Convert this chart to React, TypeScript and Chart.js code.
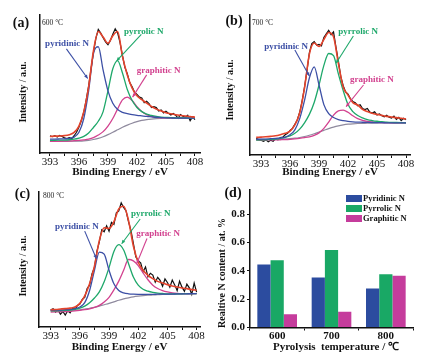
import React, { useEffect, useRef } from 'react';
import { Chart, registerables } from 'chart.js';

Chart.register(...registerables);

const SERIF = '"Liberation Serif", "Times New Roman", Times, serif';
const INK = '#111111';
const RED = '#e4432c';
const BLUE = '#3c4fa5';
const GREEN = '#1ea86a';
const PINK = '#d2428f';
const GRAY = '#8f8a9e';
const BAR_BLUE = '#2c4c9f';
const BAR_GREEN = '#19a865';
const BAR_PINK = '#c53c9c';

// ---------- shared energy grids (eV) ----------
const energyGrid = [393, 393.5, 394, 394.5, 395, 395.5, 396, 396.5, 397, 397.5, 398, 398.5, 399, 399.5, 400, 400.5, 401, 401.5, 402, 402.5, 403, 403.5, 404, 404.5, 405, 405.5, 406, 406.5, 407, 407.5, 408];
const energyGridB = [392.5, 393, 393.5, 394, 394.5, 395, 395.5, 396, 396.5, 397, 397.5, 398, 398.5, 399, 399.5, 400, 400.5, 401, 401.5, 402, 402.5, 403, 403.5, 404, 404.5, 405, 405.5, 406, 406.5, 407, 407.5, 408];
const fineGrid = [393, 393.25, 393.5, 393.75, 394, 394.25, 394.5, 394.75, 395, 395.25, 395.5, 395.75, 396, 396.25, 396.5, 396.75, 397, 397.25, 397.5, 397.75, 398, 398.25, 398.5, 398.75, 399, 399.25, 399.5, 399.75, 400, 400.25, 400.5, 400.75, 401, 401.25, 401.5, 401.75, 402, 402.25, 402.5, 402.75, 403, 403.25, 403.5, 403.75, 404, 404.25, 404.5, 404.75, 405, 405.25, 405.5, 405.75, 406, 406.25, 406.5, 406.75, 407, 407.25, 407.5, 407.75, 408];
const fineGridB = [392.5, 392.75, 393, 393.25, 393.5, 393.75, 394, 394.25, 394.5, 394.75, 395, 395.25, 395.5, 395.75, 396, 396.25, 396.5, 396.75, 397, 397.25, 397.5, 397.75, 398, 398.25, 398.5, 398.75, 399, 399.25, 399.5, 399.75, 400, 400.25, 400.5, 400.75, 401, 401.25, 401.5, 401.75, 402, 402.25, 402.5, 402.75, 403, 403.25, 403.5, 403.75, 404, 404.25, 404.5, 404.75, 405, 405.25, 405.5, 405.75, 406, 406.25, 406.5, 406.75, 407, 407.25, 407.5, 407.75, 408];

const energyMajorTicks = [393, 396, 399, 402, 405, 408];
const energyAllTicks = [393, 394.5, 396, 397.5, 399, 400.5, 402, 403.5, 405, 406.5, 408];

// ---------- (a) 600 °C ----------
const backgroundA = [8.4, 8.4, 8.4, 8.4, 8.5, 8.5, 8.6, 8.8, 9.2, 9.8, 10.6, 11.8, 13.3, 15.0, 16.8, 18.6, 20.2, 21.6, 22.7, 23.6, 24.2, 24.6, 24.9, 25.1, 25.2, 25.3, 25.3, 25.3, 25.3, 25.3, 25.3];
const pyridinicA = [10.1, 10.1, 10.2, 10.3, 10.6, 11.5, 15, 25, 45, 72, 77, 60, 45, 36, 31.5, 29.5, 28.5, 27.8, 27.3, 26.9, 26.5, 26.2, 25.9, 25.7, 25.5, 25.4, 25.3, 25.3, 25.3, 25.3, 25.3];
const pyrrolicA = [9.2, 9.2, 9.3, 9.4, 9.6, 10, 10.8, 12, 14.5, 18.5, 23, 30, 45, 61, 67, 58, 46, 38, 33, 30, 28.2, 27.2, 26.5, 26, 25.8, 25.6, 25.5, 25.4, 25.4, 25.3, 25.3];
const graphiticA = [8.4, 8.4, 8.5, 8.6, 8.7, 8.9, 9.1, 9.5, 10.1, 11.2, 13, 15.5, 19.5, 25, 32, 38.5, 40.5, 38, 33.5, 30, 27.8, 26.6, 25.9, 25.6, 25.4, 25.3, 25.3, 25.3, 25.3, 25.3, 25.3];
const fitA = [12.0, 12.2, 12.3, 12.6, 13.3, 15.0, 19.5, 30, 48, 74, 88, 84, 79.5, 85, 88, 70, 56.6, 47, 41.5, 38.6, 36.2, 33.7, 31.8, 30.4, 29.2, 28.4, 27.7, 27.2, 26.8, 26.5, 26.0];
const measuredA = [12.5, 11.8, 12.6, 11.5, 12.8, 11.9, 11.0, 10.5, 11.2, 10.4, 12.5, 15.0, 18.8, 23.5, 29.5, 38.5, 48.5, 61, 73, 83, 89.5, 87, 83.5, 80.5, 78.5, 81.5, 86, 90, 87, 80, 70.5, 62, 57.5, 51, 48, 44, 42.5, 40.5, 39.8, 36.4, 37.5, 35.8, 33.0, 33.6, 32.9, 30.4, 31.2, 29.1, 30.3, 28.9, 27.6, 28.7, 27.4, 25.2, 27.9, 26.6, 25.8, 27.3, 23.4, 26.1, 24.2];

// ---------- (b) 700 °C ----------
const backgroundB = [11.2, 11.2, 11.2, 11.3, 11.3, 11.4, 11.5, 11.7, 12.0, 12.5, 13.2, 14.1, 15.2, 16.4, 17.6, 18.8, 19.9, 20.8, 21.5, 22.0, 22.3, 22.5, 22.6, 22.7, 22.8, 22.8, 22.9, 22.9, 22.9, 23.0, 23.0, 23.0];
const pyridinicB = [11.2, 11.3, 11.4, 11.6, 11.8, 12.2, 12.8, 14.5, 18, 26, 39, 55, 63, 50, 36, 29.5, 26.8, 25.3, 24.5, 24, 23.7, 23.5, 23.4, 23.3, 23.2, 23.1, 23.1, 23.0, 23.0, 23.0, 23.0, 23.0];
const pyrrolicB = [10.7, 10.8, 10.9, 11.1, 11.4, 11.9, 12.6, 13.6, 15.5, 18.5, 23, 29, 37.5, 50, 64, 72.5, 71, 58, 46, 36, 31, 28.2, 26.5, 25.3, 24.6, 24.1, 23.8, 23.5, 23.3, 23.2, 23.1, 23.0];
const graphiticB = [10.7, 10.7, 10.7, 10.8, 10.8, 10.9, 11.0, 11.2, 11.5, 11.9, 12.4, 13.0, 14.0, 15.8, 19.0, 23.5, 28.5, 31.5, 32.0, 30.5, 28, 26, 24.8, 24, 23.6, 23.3, 23.2, 23.1, 23.0, 23.0, 23.0, 23.0];
const fitB = [12.6, 12.8, 13.0, 13.3, 13.7, 14.5, 15.5, 17, 21.5, 30, 48, 72, 80, 77.5, 82.5, 87.5, 84.5, 65.5, 48.5, 42.8, 37.4, 35.7, 32.6, 31, 29.8, 29, 28.3, 27.6, 27.1, 26.7, 26.2, 25.7];
const measuredB = [12.0, 11.0, 10.5, 9.8, 10.8, 9.5, 10.5, 9.8, 11.5, 10.8, 12.5, 12.8, 14.5, 15.5, 17.5, 19.0, 22.0, 25.0, 30.5, 38.5, 48.5, 60, 73, 79.5, 81, 78.5, 79, 78, 84, 86.5, 89, 86, 88, 77, 67, 56, 49.5, 45, 43.5, 40.2, 38.1, 37.4, 35.2, 35.9, 33.1, 32.4, 33.2, 30.6, 29.9, 30.8, 28.5, 29.4, 28.1, 27.2, 28.4, 26.9, 26.3, 27.8, 25.4, 26.9, 24.6, 26.2, 25.1];

// ---------- (c) 800 °C ----------
const backgroundC = [11.9, 11.9, 12.0, 12.1, 12.2, 12.4, 12.7, 13.2, 13.9, 14.6, 15.5, 16.5, 17.5, 18.6, 19.8, 20.8, 21.6, 22.3, 22.8, 23.2, 23.5, 23.7, 23.9, 24.1, 24.2, 24.3, 24.4, 24.5, 24.6, 24.6, 24.7];
const pyridinicC = [12.4, 12.5, 12.6, 12.8, 13.1, 13.6, 14.8, 18, 27, 42, 55.5, 54, 42, 32, 27, 25.3, 24.6, 24.3, 24.2, 24.2, 24.2, 24.2, 24.3, 24.3, 24.4, 24.4, 24.5, 24.5, 24.6, 24.7, 24.7];
const pyrrolicC = [11.9, 12.0, 12.1, 12.3, 12.6, 13.1, 14.0, 15.5, 18, 21.5, 26, 33.5, 44, 56, 61, 57, 47, 37, 31, 28, 26.5, 25.6, 25.1, 24.8, 24.6, 24.6, 24.6, 24.6, 24.7, 24.7, 24.7];
const graphiticC = [11.1, 11.2, 11.3, 11.4, 11.6, 11.9, 12.3, 12.8, 13.5, 14.5, 16, 18.5, 22, 27.5, 34, 42, 50, 49, 45.5, 40, 35, 31, 28.5, 27, 26, 25.3, 24.9, 24.7, 24.7, 24.7, 24.7];
const fitC = [12.8, 13.0, 13.3, 13.6, 14.0, 14.8, 17.5, 23, 32, 45, 64, 73.5, 73, 78, 87.5, 89.5, 79, 60, 48, 42, 38.3, 35.8, 33.8, 32.6, 31.4, 30.4, 29.6, 28.9, 28.4, 27.7, 27.2];
const measuredC = [12.5, 13.5, 11.0, 12.8, 9.5, 11.5, 8.8, 12.0, 10.5, 13.8, 13.0, 16.0, 17.0, 20.5, 22.0, 28.5, 31.0, 39.5, 44.0, 56.0, 63.0, 72.0, 70.5, 75.0, 71.0, 77.5, 76.0, 84.5, 86.0, 92.0, 88.5, 86.0, 78.0, 71.5, 62.0, 52.0, 49.0, 47.5, 41.0, 44.5, 37.2, 39.8, 38.5, 33.2, 36.8, 34.5, 30.2, 35.6, 33.0, 29.4, 34.8, 31.2, 27.0, 33.9, 29.5, 26.4, 31.8, 29.0, 24.2, 32.6, 25.8];

// ---------- (d) relative N content ----------
const temperatures = ['600', '700', '800'];
const pyridinicContent = [0.445, 0.353, 0.276];
const pyrrolicContent = [0.475, 0.546, 0.375];
const graphiticContent = [0.093, 0.111, 0.365];
const contentAllTicks = [0, 0.1, 0.2, 0.3, 0.4, 0.5, 0.6, 0.7, 0.8, 0.9];
const contentLabelTicks = [0, 0.2, 0.4, 0.6, 0.8];

type Pt = [number, number];
interface Note { text: string; color: string; at: Pt; from: Pt; to: Pt }
interface Box { left: number; top: number; right: number; bottom: number }
interface XpsCfg {
  W: number; H: number; area: Box; xMin: number; xMax: number;
  energy: number[]; background: number[]; pyridinic: number[]; pyrrolic: number[]; graphitic: number[]; fit: number[];
  dataEnergy: number[]; data: number[];
  notes: Note[]; panel: string; panelAt: Pt; temp: string; tempAt: Pt; yTitleAt: Pt; xTitleY: number;
}

function drawArrow(ctx: CanvasRenderingContext2D, x1: number, y1: number, x2: number, y2: number, color: string) {
  ctx.strokeStyle = color;
  ctx.fillStyle = color;
  ctx.lineWidth = 1.1;
  ctx.beginPath();
  ctx.moveTo(x1, y1);
  ctx.lineTo(x2, y2);
  ctx.stroke();
  const a = Math.atan2(y2 - y1, x2 - x1);
  const s = 4;
  ctx.beginPath();
  ctx.moveTo(x2, y2);
  ctx.lineTo(x2 - s * Math.cos(a - 0.45), y2 - s * Math.sin(a - 0.45));
  ctx.lineTo(x2 - s * Math.cos(a + 0.45), y2 - s * Math.sin(a + 0.45));
  ctx.closePath();
  ctx.fill();
}

function drawCommon(ctx: CanvasRenderingContext2D, panel: string, panelAt: Pt, yTitle: string, yTitleAt: Pt, yTitleSize: number, xTitle: string, xTitleAt: Pt, xTitleSize: number) {
  ctx.fillStyle = INK;
  ctx.textBaseline = 'middle';
  ctx.textAlign = 'center';
  ctx.font = `bold 14px ${SERIF}`;
  ctx.fillText(panel, panelAt[0], panelAt[1]);
  ctx.font = `bold ${xTitleSize}px ${SERIF}`;
  ctx.fillText(xTitle, xTitleAt[0], xTitleAt[1]);
  ctx.save();
  ctx.translate(yTitleAt[0], yTitleAt[1]);
  ctx.rotate(-Math.PI / 2);
  ctx.font = `bold ${yTitleSize}px ${SERIF}`;
  ctx.fillText(yTitle, 0, 0);
  ctx.restore();
}

function pts(xs: number[], ys: number[]) {
  return xs.map((x, i) => ({ x, y: ys[i] }));
}

function buildXps(canvas: HTMLCanvasElement, c: XpsCfg) {
  const line = (label: string, xs: number[], ys: number[], color: string, width: number, order: number, smooth: boolean) => ({
    label, data: pts(xs, ys), borderColor: color, backgroundColor: color, borderWidth: width, order,
    pointRadius: 0, fill: false, tension: 0, cubicInterpolationMode: smooth ? 'monotone' : 'default',
  });
  const deco = {
    id: 'deco',
    afterDraw(chart: any) {
      const ctx: CanvasRenderingContext2D = chart.ctx;
      const xs = chart.scales.x;
      const ys = chart.scales.y;
      const ca = chart.chartArea;
      ctx.save();
      for (const n of c.notes) {
        drawArrow(ctx, xs.getPixelForValue(n.from[0]), ys.getPixelForValue(n.from[1]), xs.getPixelForValue(n.to[0]), ys.getPixelForValue(n.to[1]), n.color);
        ctx.font = `bold 9px ${SERIF}`;
        ctx.fillStyle = n.color;
        ctx.textAlign = 'left';
        ctx.textBaseline = 'middle';
        ctx.fillText(n.text, xs.getPixelForValue(n.at[0]), ys.getPixelForValue(n.at[1]));
      }
      ctx.font = `7.5px ${SERIF}`;
      ctx.fillStyle = '#222';
      ctx.textAlign = 'left';
      ctx.textBaseline = 'middle';
      ctx.fillText(c.temp, c.tempAt[0], c.tempAt[1]);
      drawCommon(ctx, c.panel, c.panelAt, 'Intensity / a.u.', c.yTitleAt, 10, 'Binding Energy / eV', [(ca.left + ca.right) / 2, c.xTitleY], 11);
      ctx.restore();
    },
  };
  return new Chart(canvas, {
    type: 'line',
    data: {
      datasets: [
        line('Fit', c.energy, c.fit, RED, 1.6, 0, true),
        line('pyridinic N', c.energy, c.pyridinic, BLUE, 1.3, 1, true),
        line('pyrrolic N', c.energy, c.pyrrolic, GREEN, 1.3, 2, true),
        line('graphitic N', c.energy, c.graphitic, PINK, 1.3, 3, true),
        line('Background', c.energy, c.background, GRAY, 1.2, 4, true),
        line('Data', c.dataEnergy, c.data, INK, 1.2, 5, false),
      ] as any,
    },
    options: {
      responsive: false,
      maintainAspectRatio: false,
      animation: false,
      events: [],
      layout: { padding: { left: 0, top: c.area.top, right: c.W - c.area.right, bottom: 0 } },
      plugins: { legend: { display: false }, tooltip: { enabled: false } },
      scales: {
        x: {
          type: 'linear', min: c.xMin, max: c.xMax,
          afterFit: (s: any) => { s.height = c.H - c.area.bottom; },
          afterBuildTicks: (s: any) => { s.ticks = energyAllTicks.map((v) => ({ value: v })); },
          ticks: {
            autoSkip: false, maxRotation: 0, padding: 0, color: INK,
            font: { family: SERIF, size: 11 },
            callback: (v: any) => (energyMajorTicks.includes(Number(v)) ? String(v) : ''),
          },
          grid: { display: true, drawOnChartArea: false, drawTicks: true, tickLength: 3, color: INK, lineWidth: 1 },
          border: { display: true, color: INK, width: 1.5 },
        },
        y: {
          type: 'linear', min: 0, max: 100,
          afterFit: (s: any) => { s.width = c.area.left; },
          ticks: { display: false },
          grid: { display: false },
          border: { display: true, color: INK, width: 1.5 },
        },
      },
    } as any,
    plugins: [deco],
  });
}

function buildBars(canvas: HTMLCanvasElement, W: number, H: number, area: Box) {
  const deco = {
    id: 'deco',
    afterDraw(chart: any) {
      const ctx: CanvasRenderingContext2D = chart.ctx;
      const ca = chart.chartArea;
      ctx.save();
      chart.data.datasets.forEach((ds: any, i: number) => {
        const y = ca.top + 8.5 + i * 10;
        const x = ca.right - 67;
        ctx.fillStyle = ds.backgroundColor;
        ctx.fillRect(x, y - 3.5, 16, 7);
        ctx.fillStyle = INK;
        ctx.font = `bold 8.5px ${SERIF}`;
        ctx.textAlign = 'left';
        ctx.textBaseline = 'middle';
        ctx.fillText(ds.label, x + 17, y);
      });
      drawCommon(ctx, '(d)', [23, 13.5], 'Realtive N content / at. %', [12, 93], 10, 'Pyrolysis  temperature / \u2103', [126, 167.5], 11);
      ctx.restore();
    },
  };
  return new Chart(canvas, {
    type: 'bar',
    data: {
      labels: temperatures,
      datasets: [
        { label: 'Pyridinic N', data: pyridinicContent, backgroundColor: BAR_BLUE },
        { label: 'Pyrrolic N', data: pyrrolicContent, backgroundColor: BAR_GREEN },
        { label: 'Graphitic N', data: graphiticContent, backgroundColor: BAR_PINK },
      ],
    },
    options: {
      responsive: false,
      maintainAspectRatio: false,
      animation: false,
      events: [],
      datasets: { bar: { barPercentage: 1, categoryPercentage: 0.73 } },
      layout: { padding: { left: 0, top: area.top, right: W - area.right, bottom: 0 } },
      plugins: { legend: { display: false }, tooltip: { enabled: false } },
      scales: {
        x: {
          afterFit: (s: any) => { s.height = H - area.bottom; },
          ticks: { color: INK, padding: -1, font: { family: SERIF, size: 11, weight: 'bold' } },
          grid: { display: true, offset: true, drawOnChartArea: false, drawTicks: true, tickLength: 3, color: INK },
          border: { display: true, color: INK, width: 1.5 },
        },
        y: {
          min: 0, max: 0.97,
          afterFit: (s: any) => { s.width = area.left; },
          afterBuildTicks: (s: any) => { s.ticks = contentAllTicks.map((v) => ({ value: v })); },
          ticks: {
            color: INK, padding: 2, font: { family: SERIF, size: 11, weight: 'bold' },
            callback: (v: any) => (contentLabelTicks.some((t) => Math.abs(t - Number(v)) < 1e-6) ? Number(v).toFixed(1) : ''),
          },
          grid: { display: true, drawOnChartArea: false, drawTicks: true, tickLength: 3, color: INK },
          border: { display: true, color: INK, width: 1.5 },
        },
      },
    } as any,
    plugins: [deco],
  });
}

function Panel({ left, top, width, height, build }: { left: number; top: number; width: number; height: number; build: (c: HTMLCanvasElement) => Chart }) {
  const ref = useRef<HTMLCanvasElement>(null);
  useEffect(() => {
    const chart = build(ref.current as HTMLCanvasElement);
    return () => chart.destroy();
  }, []);
  return (
    <div style={{ position: 'absolute', left, top, width, height }}>
      <canvas ref={ref} width={width} height={height} style={{ width, height, display: 'block' }} />
    </div>
  );
}

const cfgA: XpsCfg = {
  W: 210, H: 180, area: { left: 40, top: 15, right: 200, bottom: 153 }, xMin: 391.97, xMax: 408.52,
  energy: energyGrid, background: backgroundA, pyridinic: pyridinicA, pyrrolic: pyrrolicA, graphitic: graphiticA, fit: fitA,
  dataEnergy: fineGrid, data: measuredA,
  notes: [
    { text: 'pyridinic N', color: BLUE, at: [392.5, 79.5], from: [394.7, 75.5], to: [396.9, 54] },
    { text: 'pyrrolic N', color: GREEN, at: [400.66, 88], from: [402.45, 86], to: [399.9, 66.8] },
    { text: 'graphitic N', color: PINK, at: [401.97, 60], from: [403, 56.6], to: [401.55, 40.5] },
  ],
  panel: '(a)', panelAt: [21, 23], temp: '600 \u00B0C', tempAt: [42, 23], yTitleAt: [23.5, 92], xTitleY: 172,
};

const cfgB: XpsCfg = {
  W: 213, H: 180, area: { left: 40, top: 15, right: 200, bottom: 155 }, xMin: 391.86, xMax: 408.41,
  energy: energyGridB, background: backgroundB, pyridinic: pyridinicB, pyrrolic: pyrrolicB, graphitic: graphiticB, fit: fitB,
  dataEnergy: fineGridB, data: measuredB,
  notes: [
    { text: 'pyridinic N', color: BLUE, at: [393.34, 77.4], from: [396.5, 75], to: [398, 56.4] },
    { text: 'pyrrolic N', color: GREEN, at: [401, 88], from: [402.55, 85], to: [400.76, 65.5] },
    { text: 'graphitic N', color: PINK, at: [402.2, 53.5], from: [403.6, 50], to: [401.8, 34.5] },
  ],
  panel: '(b)', panelAt: [24, 21], temp: '700 \u00B0C', tempAt: [42, 23], yTitleAt: [20, 90], xTitleY: 172,
};

const cfgC: XpsCfg = {
  W: 210, H: 181, area: { left: 39, top: 12, right: 200, bottom: 147 }, xMin: 391.8, xMax: 408.35,
  energy: energyGrid, background: backgroundC, pyridinic: pyridinicC, pyrrolic: pyrrolicC, graphitic: graphiticC, fit: fitC,
  dataEnergy: fineGrid, data: measuredC,
  notes: [
    { text: 'pyridinic N', color: BLUE, at: [393.45, 74], from: [396.5, 71], to: [397.7, 50.6] },
    { text: 'pyrrolic N', color: GREEN, at: [401.25, 84], from: [402.2, 80], to: [400.3, 61.7] },
    { text: 'graphitic N', color: PINK, at: [401.8, 69], from: [402.9, 65.5], to: [401.85, 47] },
  ],
  panel: '(c)', panelAt: [22.5, 14], temp: '800 \u00B0C', tempAt: [43, 16], yTitleAt: [23.5, 86], xTitleY: 167.5,
};

export default function App() {
  return (
    <div style={{ position: 'absolute', left: 0, top: 0, width: 423, height: 361, background: '#ffffff', overflow: 'hidden' }}>
      <Panel left={0} top={0} width={210} height={180} build={(cv) => buildXps(cv, cfgA)} />
      <Panel left={210} top={0} width={213} height={180} build={(cv) => buildXps(cv, cfgB)} />
      <Panel left={0} top={180} width={210} height={181} build={(cv) => buildXps(cv, cfgC)} />
      <Panel left={210} top={180} width={213} height={181} build={(cv) => buildBars(cv, 213, 181, { left: 40, top: 10, right: 203, bottom: 147.5 })} />
    </div>
  );
}
